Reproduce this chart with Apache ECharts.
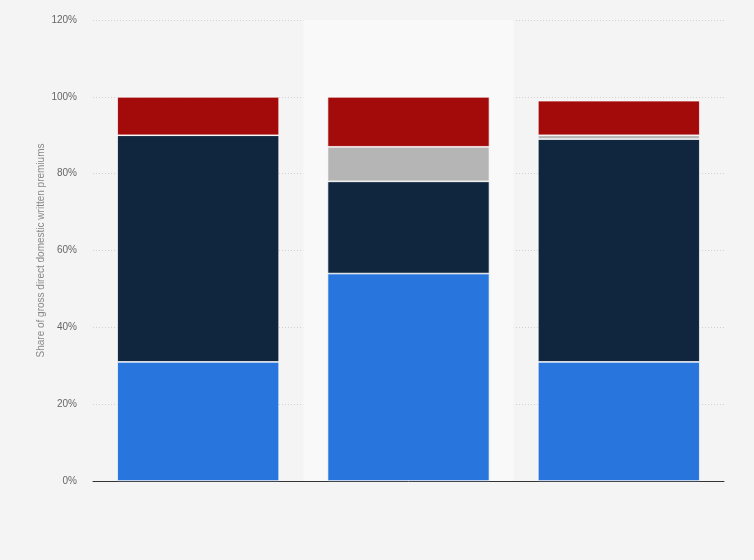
<!DOCTYPE html>
<html><head><meta charset="utf-8">
<script src="https://cdn.jsdelivr.net/npm/echarts@6/dist/echarts.min.js"></script>
<style>html,body{margin:0;padding:0;background:#f4f4f4}#c{width:754px;height:560px}</style>
</head><body><div id="c"></div>
<script>
const categories = ['A', 'B', 'C'];
const seriesBlue = [31, 54, 31];
const seriesNavy = [59, 24, 58];
const seriesGray = [0, 9, 1];
const seriesRed = [10, 13, 9];
const highlight = [null, 120, null];
const yTicks = [0, 20, 40, 60, 80, 100, 120];

const chart = echarts.init(document.getElementById('c'));
const mk = (name, data, color) => ({
  name, type: 'bar', stack: 'total', data, barWidth: '77%', z: 3,
  itemStyle: { color, borderColor: '#ffffff', borderWidth: 0.7 },
  emphasis: { disabled: true }
});
chart.setOption({
  backgroundColor: '#f4f4f4',
  animation: false,
  grid: { left: 93, right: 30, top: 20, bottom: 79 },
  xAxis: [
    { type: 'category', data: categories, axisLabel: { show: false }, axisTick: { show: false },
      axisLine: { lineStyle: { color: '#333', width: 1 } } },
    { type: 'category', data: categories, show: false }
  ],
  yAxis: {
    type: 'value', min: yTicks[0], max: yTicks[yTicks.length - 1], interval: 20,
    name: 'Share of gross direct domestic written premiums', nameLocation: 'middle', nameGap: 47,
    nameMoveOverlap: false,
    nameTextStyle: { color: '#888', fontSize: 10, fontFamily: 'Arial, Liberation Sans' },
    axisLabel: { formatter: '{value}%', color: '#666', fontSize: 10, fontFamily: 'Arial, Liberation Sans', margin: 16 },
    splitLine: { lineStyle: { type: [1, 2], color: '#d0d0d0' } },
    axisLine: { show: false }, axisTick: { show: false }
  },
  series: [
    { type: 'bar', xAxisIndex: 1, data: highlight, barWidth: '100%', z: 1, silent: true,
      itemStyle: { color: '#f9f9f9' } },
    mk('Blue', seriesBlue, '#2876dd'),
    mk('Navy', seriesNavy, '#10263e'),
    mk('Gray', seriesGray, '#b5b5b5'),
    mk('Red', seriesRed, '#a30a0a')
  ]
});
</script></body></html>
